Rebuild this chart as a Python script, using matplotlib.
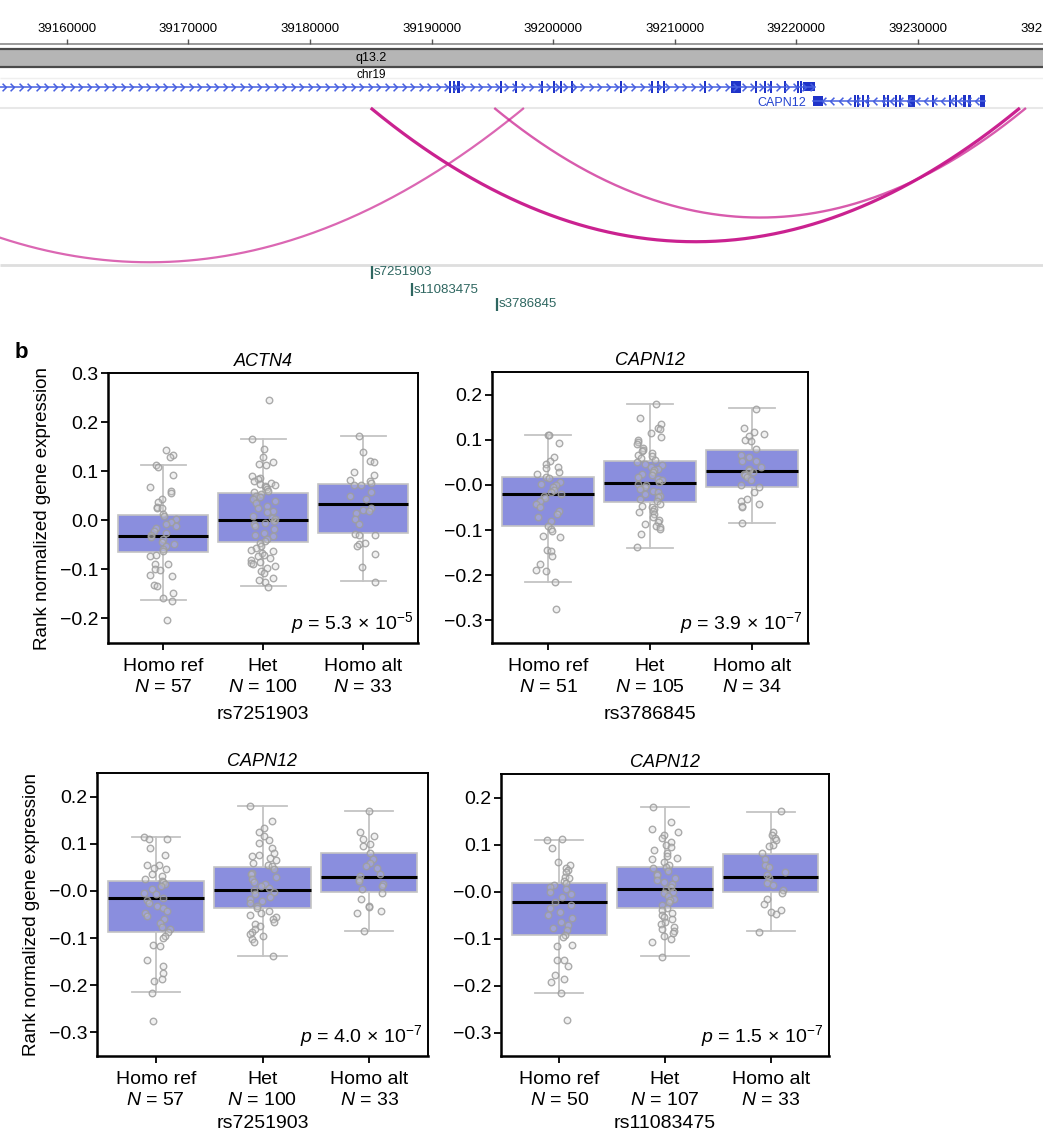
import numpy as np
import matplotlib
matplotlib.use("Agg")
import matplotlib.pyplot as plt
from matplotlib.path import Path
from matplotlib.patches import Rectangle

plt.rcParams["font.family"] = ["Liberation Sans", "DejaVu Sans"]
plt.rcParams["mathtext.fontset"] = "custom"
plt.rcParams["mathtext.rm"] = "Liberation Sans"
plt.rcParams["mathtext.it"] = "Liberation Sans:italic"

# ---------------- genome track (panel a) ----------------
ruler_ticks = [39160000, 39170000, 39180000, 39190000, 39200000,
               39210000, 39220000, 39230000]
ruler_labels = ["39160000", "39170000", "39180000", "39190000", "39200000",
                "39210000", "39220000", "39230000"]
ruler_cut_label = "392"   # last label, cut by the browser window edge
view_range = (39154500, 39240300)
band_name = "q13.2"
chrom_name = "chr19"
band_pos = 39185000

actn4_span = (39130000, 39221545)
actn4_exon_start = [39191450, 39191800, 39192130, 39195630, 39196900, 39198990,
                    39200000, 39200550, 39201500, 39205490, 39208030, 39208520,
                    39209010, 39212430, 39214660, 39216630, 39217350, 39217860,
                    39218980, 39220070, 39220300]
actn4_exon_end = [39191620, 39191970, 39192300, 39195800, 39197070, 39199160,
                  39200170, 39200720, 39201670, 39205660, 39208200, 39208690,
                  39209180, 39212600, 39215480, 39216800, 39217520, 39218030,
                  39219150, 39220240, 39220470]
actn4_utr = (39220560, 39221545)

capn12_name = "CAPN12"
capn12_span = (39221381, 39235558)
capn12_utr = (39221381, 39222200)
capn12_exon_start = [39224750, 39225000, 39225400, 39225810, 39227120, 39227450,
                     39228100, 39228430, 39229166, 39231140, 39232600, 39233020,
                     39233760, 39234170, 39235148]
capn12_exon_end = [39224920, 39225170, 39225570, 39225980, 39227290, 39227620,
                   39228270, 39228600, 39229740, 39231310, 39232770, 39233190,
                   39233930, 39234340, 39235558]

arc_start = [39136000, 39185000, 39195160]
arc_end = [39197600, 39238400, 39238900]

snp_names = ["s7251903", "s11083475", "s3786845"]
snp_pos = [39185082, 39188359, 39195406]

# ---------------- box plot panels (panel b) ----------------
groups = ["Homo ref", "Het", "Homo alt"]

p1_gene, p1_snp = "ACTN4", "rs7251903"
p1_n = [57, 100, 33]
p1_q1 = [-0.065, -0.045, -0.026]
p1_med = [-0.032, 0.000, 0.034]
p1_q3 = [0.010, 0.055, 0.073]
p1_lo = [-0.162, -0.133, -0.123]
p1_hi = [0.113, 0.166, 0.171]
p1_p = ("5.3", "-5")
p1_ref = [0.144, 0.133, 0.128, 0.113, 0.108, 0.092, 0.067, 0.060, 0.055, 0.043,
          0.038, 0.027, 0.026, 0.024, 0.012, 0.008, 0.002, -0.003, -0.007, -0.012,
          -0.015, -0.021, -0.025, -0.031, -0.034, -0.039, -0.045, -0.048, -0.053,
          -0.058, -0.063, -0.070, -0.073, -0.089, -0.090, -0.099, -0.102, -0.111,
          -0.114, -0.132, -0.134, -0.149, -0.159, -0.164, -0.203]
p1_het = [0.244, 0.166, 0.145, 0.128, 0.118, 0.114, 0.112, 0.090, 0.087, 0.084,
          0.081, 0.076, 0.074, 0.072, 0.069, 0.067, 0.064, 0.060, 0.057, 0.053,
          0.050, 0.047, 0.043, 0.040, 0.036, 0.029, 0.026, 0.019, 0.016, 0.009,
          0.005, 0.002, -0.001, -0.005, -0.008, -0.012, -0.018, -0.025, -0.029,
          -0.032, -0.039, -0.042, -0.046, -0.053, -0.056, -0.060, -0.063, -0.066,
          -0.070, -0.073, -0.077, -0.080, -0.084, -0.087, -0.090, -0.094, -0.097,
          -0.104, -0.108, -0.118, -0.121, -0.125, -0.136]
p1_alt = [0.172, 0.140, 0.120, 0.118, 0.099, 0.092, 0.083, 0.079, 0.075, 0.072,
          0.071, 0.057, 0.049, 0.043, 0.026, 0.021, 0.019, 0.014, 0.003, -0.008,
          -0.027, -0.029, -0.030, -0.046, -0.049, -0.053, -0.068, -0.095, -0.125]

p2_gene, p2_snp = "CAPN12", "rs3786845"
p2_n = [51, 105, 34]
p2_q1 = [-0.092, -0.037, -0.004]
p2_med = [-0.021, 0.004, 0.030]
p2_q3 = [0.018, 0.053, 0.077]
p2_lo = [-0.215, -0.139, -0.085]
p2_hi = [0.110, 0.180, 0.170]
p2_p = ("3.9", "-7")
p2_ref = [0.111, 0.110, 0.092, 0.061, 0.054, 0.046, 0.040, 0.038, 0.028, 0.024,
          0.018, 0.015, 0.006, 0.002, -0.001, -0.005, -0.011, -0.016, -0.020,
          -0.024, -0.029, -0.035, -0.042, -0.049, -0.057, -0.064, -0.071, -0.079,
          -0.090, -0.097, -0.101, -0.114, -0.115, -0.145, -0.146, -0.158, -0.174,
          -0.189, -0.191, -0.215, -0.274]
p2_het = [0.179, 0.148, 0.135, 0.127, 0.124, 0.116, 0.107, 0.099, 0.096, 0.090,
          0.082, 0.077, 0.074, 0.071, 0.067, 0.063, 0.060, 0.055, 0.050, 0.046,
          0.043, 0.039, 0.035, 0.032, 0.028, 0.024, 0.021, 0.017, 0.013, 0.010,
          0.006, 0.002, -0.001, -0.005, -0.009, -0.013, -0.016, -0.020, -0.024,
          -0.027, -0.031, -0.035, -0.042, -0.046, -0.049, -0.053, -0.057, -0.060,
          -0.065, -0.071, -0.077, -0.082, -0.086, -0.090, -0.093, -0.097, -0.108,
          -0.138]
p2_alt = [0.169, 0.125, 0.118, 0.113, 0.109, 0.099, 0.098, 0.079, 0.066, 0.061,
          0.054, 0.052, 0.039, 0.035, 0.032, 0.028, 0.024, 0.021, 0.017, 0.010,
          -0.001, -0.005, -0.016, -0.031, -0.035, -0.042, -0.046, -0.049, -0.085]

p3_gene, p3_snp = "CAPN12", "rs7251903"
p3_n = [57, 100, 33]
p3_q1 = [-0.088, -0.036, -0.002]
p3_med = [-0.016, 0.003, 0.030]
p3_q3 = [0.021, 0.051, 0.080]
p3_lo = [-0.215, -0.138, -0.084]
p3_hi = [0.115, 0.180, 0.170]
p3_p = ("4.0", "-7")
p3_ref = [0.114, 0.111, 0.110, 0.092, 0.077, 0.056, 0.054, 0.049, 0.046, 0.035,
          0.032, 0.025, 0.021, 0.018, 0.014, 0.011, 0.004, -0.004, -0.007, -0.014,
          -0.019, -0.025, -0.032, -0.037, -0.042, -0.047, -0.053, -0.060, -0.067,
          -0.077, -0.081, -0.088, -0.095, -0.099, -0.115, -0.116, -0.146, -0.160,
          -0.174, -0.187, -0.192, -0.216, -0.275]
p3_het = [0.180, 0.149, 0.134, 0.125, 0.116, 0.109, 0.102, 0.092, 0.081, 0.077,
          0.074, 0.070, 0.065, 0.060, 0.056, 0.053, 0.046, 0.039, 0.035, 0.030,
          0.025, 0.018, 0.014, 0.011, 0.007, 0.002, -0.002, -0.007, -0.012, -0.018,
          -0.021, -0.025, -0.032, -0.037, -0.042, -0.046, -0.051, -0.056, -0.060,
          -0.065, -0.070, -0.075, -0.081, -0.087, -0.092, -0.095, -0.101, -0.108,
          -0.137]
p3_alt = [0.170, 0.125, 0.116, 0.111, 0.099, 0.095, 0.081, 0.067, 0.060, 0.053,
          0.049, 0.035, 0.032, 0.025, 0.021, 0.014, 0.011, 0.004, -0.005, -0.018,
          -0.032, -0.035, -0.042, -0.047, -0.085]

p4_gene, p4_snp = "CAPN12", "rs11083475"
p4_n = [50, 107, 33]
p4_q1 = [-0.092, -0.035, -0.002]
p4_med = [-0.022, 0.005, 0.030]
p4_q3 = [0.018, 0.052, 0.080]
p4_lo = [-0.215, -0.138, -0.085]
p4_hi = [0.110, 0.180, 0.170]
p4_p = ("1.5", "-7")
p4_ref = [0.111, 0.110, 0.093, 0.062, 0.056, 0.049, 0.045, 0.042, 0.031, 0.028,
          0.022, 0.019, 0.013, 0.010, 0.006, -0.001, -0.006, -0.011, -0.022, -0.029,
          -0.035, -0.043, -0.050, -0.057, -0.065, -0.072, -0.077, -0.082, -0.093,
          -0.096, -0.114, -0.116, -0.145, -0.146, -0.159, -0.177, -0.187, -0.192,
          -0.216, -0.274]
p4_het = [0.180, 0.148, 0.134, 0.127, 0.120, 0.113, 0.106, 0.100, 0.095, 0.088,
          0.081, 0.076, 0.072, 0.069, 0.063, 0.057, 0.052, 0.049, 0.043, 0.038,
          0.035, 0.029, 0.024, 0.021, 0.015, 0.010, 0.005, -0.001, -0.004, -0.009,
          -0.015, -0.018, -0.023, -0.029, -0.035, -0.040, -0.045, -0.050, -0.054,
          -0.059, -0.065, -0.070, -0.075, -0.079, -0.084, -0.089, -0.094, -0.100,
          -0.107, -0.139]
p4_alt = [0.171, 0.127, 0.120, 0.114, 0.109, 0.100, 0.097, 0.081, 0.070, 0.056,
          0.052, 0.042, 0.035, 0.028, 0.019, 0.013, 0.003, -0.004, -0.015, -0.026,
          -0.040, -0.043, -0.047, -0.086]

W, H = 1053, 1136


def px_rect(left, top, right, bottom):
    return [left / W, 1 - bottom / H, (right - left) / W, (bottom - top) / H]


fig = plt.figure(figsize=(W / 100, H / 100), dpi=100)

# ---------- genome browser track ----------
tr = fig.add_axes(px_rect(0, 0, 1043, 320))
tr.set_xlim(*view_range)
tr.set_ylim(320, 0)
tr.axis("off")

tr.plot(view_range, [44, 44], color="#8a8a8a", lw=1.2)
tr.vlines(ruler_ticks, 39, 44, color="#555555", lw=1)
for t, lab in zip(ruler_ticks, ruler_labels):
    tr.text(t, 29, lab, ha="center", va="center", fontsize=9.5)
tr.text(1.0, 29, ruler_cut_label, transform=tr.get_yaxis_transform(),
        ha="right", va="center", fontsize=9.5)

tr.add_patch(Rectangle((view_range[0], 49), view_range[1] - view_range[0], 18,
                       facecolor="#b5b5b5", edgecolor="none"))
tr.hlines([49, 67], *view_range, color="#4a4a4a", lw=1.6)
tr.text(band_pos, 58, band_name, ha="center", va="center", fontsize=9)
tr.text(band_pos, 75, chrom_name, ha="center", va="center", fontsize=8.5)

tr.hlines(78, *view_range, color="#efefef", lw=1)
tr.hlines(108, *view_range, color="#e8e8e8", lw=1.5)
tr.hlines(265, *view_range, color="#dedede", lw=2)

line_col, exon_col = "#4760e0", "#1f33c8"
chev_right = Path([(-0.5, 1), (0.5, 0), (-0.5, -1)],
                  [Path.MOVETO, Path.LINETO, Path.LINETO])
chev_left = Path([(0.5, 1), (-0.5, 0), (0.5, -1)],
                 [Path.MOVETO, Path.LINETO, Path.LINETO])

# ACTN4 (forward strand)
y1 = 86.5
tr.plot(actn4_span, [y1, y1], color=line_col, lw=1.1)
cx = np.arange(view_range[0] + 300, actn4_span[1], 700)
tr.plot(cx, np.full(len(cx), y1), ls="none", marker=chev_right, ms=5.5,
        mec=line_col, mfc="none", mew=1.1)
for s, e in zip(actn4_exon_start, actn4_exon_end):
    tr.add_patch(Rectangle((s, y1 - 6), e - s, 12, facecolor=exon_col, edgecolor="none"))
tr.add_patch(Rectangle((actn4_utr[0], y1 - 4.5), actn4_utr[1] - actn4_utr[0], 9,
                       facecolor=exon_col, edgecolor="none"))

# CAPN12 (reverse strand)
y2 = 101
tr.plot(capn12_span, [y2, y2], color=line_col, lw=1.1)
cx = np.arange(capn12_span[0] + 900, capn12_span[1], 700)
tr.plot(cx, np.full(len(cx), y2), ls="none", marker=chev_left, ms=5.5,
        mec=line_col, mfc="none", mew=1.1)
for s, e in zip(capn12_exon_start, capn12_exon_end):
    tr.add_patch(Rectangle((s, y2 - 6), e - s, 12, facecolor=exon_col, edgecolor="none"))
tr.add_patch(Rectangle((capn12_utr[0], y2 - 5), capn12_utr[1] - capn12_utr[0], 10,
                       facecolor=exon_col, edgecolor="none"))
tr.text(capn12_span[0] - 600, y2 + 2, capn12_name, ha="right", va="center",
        fontsize=9, color="#2343d0")

# interaction arcs
px_per_bp = 1043 / (view_range[1] - view_range[0])
arc_styles = [dict(lw=1.6, alpha=0.65), dict(lw=2.3, alpha=0.95), dict(lw=1.7, alpha=0.7)]
for s, e, st in zip(arc_start, arc_end, arc_styles):
    xs = np.linspace(s, e, 400)
    t = (xs - (s + e) / 2) / ((e - s) / 2)
    depth = 0.206 * (e - s) * px_per_bp
    tr.plot(xs, 108 + depth * (1 - t ** 2), color="#c8168a", solid_capstyle="butt", **st)

# SNPs
snp_rows = [272, 289.5, 304]
for name, pos, yy in zip(snp_names, snp_pos, snp_rows):
    tr.vlines(pos, yy - 6.5, yy + 6.5, color="#2e6660", lw=1.6)
    tr.text(pos + 150, yy, name, ha="left", va="center", fontsize=9.5, color="#2e6660")

# ---------- box plot panels ----------
panels = [
    (p1_gene, p1_snp, p1_n, p1_q1, p1_med, p1_q3, p1_lo, p1_hi, p1_p,
     [p1_ref, p1_het, p1_alt], px_rect(108, 373, 418, 643), True, True, 7),
    (p2_gene, p2_snp, p2_n, p2_q1, p2_med, p2_q3, p2_lo, p2_hi, p2_p,
     [p2_ref, p2_het, p2_alt], px_rect(492, 372, 808, 643), False, False, 7),
    (p3_gene, p3_snp, p3_n, p3_q1, p3_med, p3_q3, p3_lo, p3_hi, p3_p,
     [p3_ref, p3_het, p3_alt], px_rect(97, 773, 428, 1056), True, False, 4.5),
    (p4_gene, p4_snp, p4_n, p4_q1, p4_med, p4_q3, p4_lo, p4_hi, p4_p,
     [p4_ref, p4_het, p4_alt], px_rect(501, 774, 829, 1056), False, False, 4.5),
]

rng = np.random.default_rng(7)
box_col = "#8a8ede"
grey = "#c4c4c4"

for gene, snp, n, q1, med, q3, lo, hi, pv, pts, rect, ylab, first, xpad in panels:
    ax = fig.add_axes(rect)
    stats = [dict(q1=a, med=b, q3=c, whislo=d, whishi=e, fliers=[])
             for a, b, c, d, e in zip(q1, med, q3, lo, hi)]
    ax.bxp(stats, positions=[0, 1, 2], widths=0.9, patch_artist=True,
           showfliers=False, manage_ticks=False, capwidths=0.45,
           boxprops=dict(facecolor=box_col, edgecolor=grey, lw=1.2),
           medianprops=dict(color="black", lw=2.2),
           whiskerprops=dict(color=grey, lw=1.3),
           capprops=dict(color=grey, lw=1.3))
    for i, vals in enumerate(pts):
        xs = i + rng.uniform(-0.13, 0.13, len(vals))
        ax.scatter(xs, vals, s=22, facecolor=(0.82, 0.82, 0.82, 0.3),
                   edgecolor=(0.62, 0.62, 0.62, 0.85), lw=1.0, zorder=4)

    ax.set_xlim(-0.55, 2.55)
    if first:
        ax.set_ylim(-0.25, 0.3)
        yt = [-0.2, -0.1, 0.0, 0.1, 0.2, 0.3]
        ylabels = ["\u22120.2", "\u22120.1", "0.0", "0.1", "0.2", "0.3"]
    else:
        ax.set_ylim(-0.35, 0.25)
        yt = [-0.3, -0.2, -0.1, 0.0, 0.1, 0.2]
        ylabels = ["\u22120.3", "\u22120.2", "\u22120.1", "\u22120.0", "0.1", "0.2"]
    ax.set_yticks(yt)
    ax.set_yticklabels(ylabels)
    ax.set_xticks([0, 1, 2])
    ax.set_xticklabels([f"{g}\n$N$ = {k}" for g, k in zip(groups, n)],
                       linespacing=1.3)
    ax.tick_params(axis="y", labelsize=14, length=5, width=1.3, pad=2)
    ax.tick_params(axis="x", labelsize=14, length=5, width=1.3, pad=6)
    for side in ["left", "bottom"]:
        ax.spines[side].set_linewidth(1.8)
    for side in ["top", "right"]:
        ax.spines[side].set_linewidth(1.4)

    ax.set_title(gene, style="italic", fontsize=13, pad=5)
    ax.text(0.985, 0.025, f"$p$ = {pv[0]}$\\,\\times\\,$10$^{{{pv[1]}}}$",
            transform=ax.transAxes, ha="right", va="bottom", fontsize=14)
    ax.set_xlabel(snp, fontsize=14, labelpad=xpad)
    if ylab:
        ax.set_ylabel("Rank normalized gene expression", fontsize=13.5, labelpad=6)

fig.text(15 / W, 1 - 352 / H, "b", fontsize=16, fontweight="bold", va="center")

fig.savefig("out.png", dpi=100)
